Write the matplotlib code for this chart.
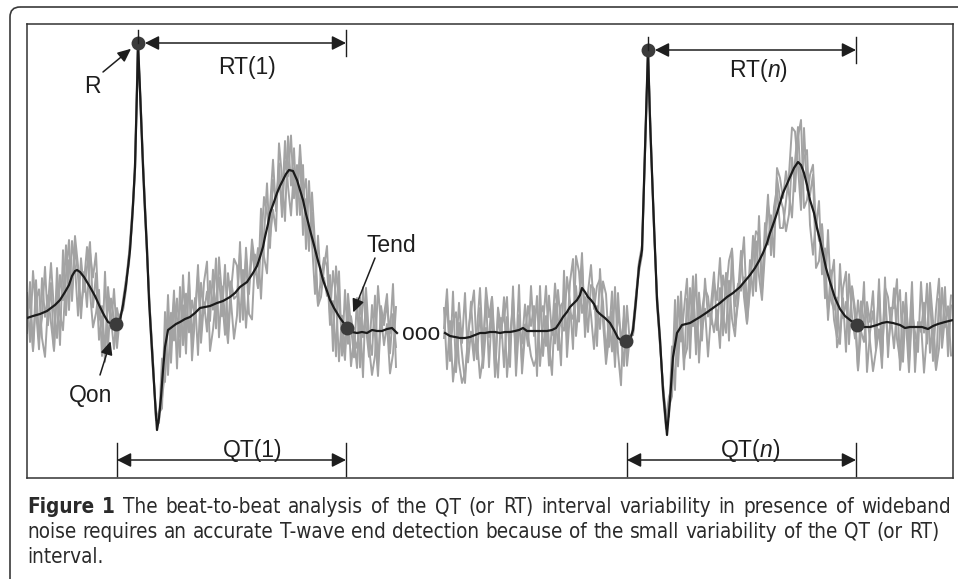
import os
import numpy as np
import matplotlib
matplotlib.use("Agg")
import matplotlib.pyplot as plt
from matplotlib.patches import FancyArrowPatch, FancyBboxPatch
from matplotlib import font_manager as fm

# ---------------- data ----------------
# time in samples, amplitude in arbitrary units (averaged beat = black line)
beat1_t = [0, 6, 13, 20, 28, 33, 38, 42, 45, 48, 50, 53, 57, 63, 68, 73, 77, 81, 85, 89,
           93, 96, 99, 101, 103, 106, 108, 110, 111, 113, 116, 118, 120, 122, 125, 128, 130,
           132, 134, 136, 138, 141, 145, 149, 153, 158, 163, 168, 173, 178, 183, 190, 196,
           203, 208, 213, 220, 226, 230, 233, 236, 238, 241, 243, 247, 250, 253, 256, 259,
           262, 266, 270, 273, 276, 279, 283, 287, 290, 293, 296, 300, 303, 307, 310, 313,
           316, 320, 325, 330, 335, 340, 345, 350, 355, 360, 365, 370]
beat1_a = [12, 14, 16, 19, 25, 30, 38, 45, 54, 59, 60, 58, 53, 43, 34, 23, 15, 8, 6, 6,
           10, 25, 45, 62, 80, 125, 163, 240, 287, 240, 163, 120, 80, 30, -20, -70, -100,
           -88, -67, -40, -17, 0, 3, 6, 8, 11, 13, 17, 22, 23, 24, 27, 29,
           33, 37, 43, 48, 57, 64, 73, 83, 93, 106, 117, 128, 137, 144, 150, 156,
           160, 159, 150, 140, 130, 116, 100, 85, 73, 62, 50, 39, 30, 22, 17, 12,
           8, 2, -2, -3, -2, -3, 0, -1, -1, 1, 2, -3]

beat2_t = [418, 423, 428, 433, 438, 443, 448, 453, 458, 463, 468, 473, 478, 483, 488, 492,
           496, 500, 505, 510, 515, 520, 525, 529, 533, 536, 540, 543, 547, 550, 553, 555,
           558, 561, 564, 567, 570, 573, 578, 583, 587, 591, 595, 599, 603, 606, 609, 612,
           615, 618, 621, 623, 626, 628, 630, 633, 636, 640, 643, 646, 650, 655, 659, 663,
           668, 673, 679, 686, 693, 700, 706, 713, 718, 723, 728, 732, 736, 740, 743, 747,
           750, 753, 756, 760, 763, 767, 771, 774, 777, 780, 783, 787, 790, 793, 796, 799,
           803, 808, 813, 818, 823, 830, 836, 843, 850, 855, 860, 866, 873, 878, 883, 890,
           895, 901, 906, 911, 918, 926]
beat2_a = [-3, -6, -7, -8, -8, -7, -5, -3, -3, -2, -2, -3, -2, -2, -1, 0,
           2, -1, -1, -1, -1, -1, 0, 2, 8, 13, 18, 23, 27, 30, 35, 42,
           38, 33, 30, 26, 19, 16, 12, 7, 0, -8, -11, -11, -10, 0, 30, 63,
           80, 180, 280, 210, 130, 80, 30, -10, -60, -105, -70, -27, -3, 5, 6, 7,
           10, 13, 17, 22, 27, 33, 37, 43, 49, 55, 62, 69, 77, 87, 97, 108,
           117, 127, 137, 146, 153, 162, 168, 165, 157, 145, 130, 117, 102, 90, 76, 62,
           48, 32, 21, 14, 10, 5, 3, 3, 5, 7, 8, 7, 5, 2, 3, 3,
           3, 1, 4, 6, 8, 10]

# fiducial points: Q onset, R peak, T end for beat 1 and beat n
qon_t = [89, 599]
qon_a = [6, -11]
r_t = [111, 621]
r_a = [287, 280]
tend_t = [320, 830]
tend_a = [2, 5]

# individual noisy beats: deviation codes (0..9) around the average, one per sample
beat1_grid = (0, 370, 3)
beat2_grid = (417, 925, 3)
noise_b1 = [
    "7295184630831692740528693517483544554454455453281751938260746382951740"
    "29183746059174628305381629504772509183641847302956" "8263",
    "3816720594174928506369371408526455445545544547163808273649152749163058"
    "71604852930593716482628194073547096318528195274063" "5027",
    "5618249370609273851484136092752545544455455452806373619048279025738164"
    "48371062596241950837195837402693860527143609428175" "7491",
]
noise_b2 = [
    "4829163057927154830616382904757092615384385097241661940382752845544545"
    "45544527160739162845826170935450382917461974630582682054719335179286049046381725"
    "26817390547395028461",
    "7160384925259381706480472615394815930726627914805305387261947354455454"
    "54455470836918273504240758913691627304854853016279137948260580261953743758240916"
    "69038172450481692537",
    "5936720148340296817568190537421267384950904362715847861529308254554445"
    "45455639281284905763759316204830468715926721359840945802731621946385075630291874"
    "83175064294925073816",
]
noise_unit = 10.0

caption_line1 = "The beat-to-beat analysis of the QT (or RT) interval variability in presence of wideband"
caption_line2 = "noise requires an accurate T-wave end detection because of the small variability of the QT (or RT)"
caption_line3 = "interval."

# ---------------- figure ----------------
W, H = 958, 579
fig = plt.figure(figsize=(W / 100, H / 100), dpi=100)
fig.patch.set_facecolor("white")

ov = fig.add_axes([0, 0, 1, 1], zorder=0)
ov.set_xlim(0, W)
ov.set_ylim(H, 0)
ov.axis("off")
ov.add_patch(FancyBboxPatch((10, 7), 975, 600, boxstyle="round,pad=0,rounding_size=10",
                            fc="none", ec="#3a3a3a", lw=1.2))

L, T, R, B = 27, 24, 953, 478
ax = fig.add_axes([L / W, 1 - B / H, (R - L) / W, (B - T) / H], zorder=1)
ax.set_facecolor("white")
ax.set_xlim(0, R - L)
ax.set_ylim(330 - B, 330 - T)
ax.set_xticks([])
ax.set_yticks([])
for s in ax.spines.values():
    s.set_linewidth(1.1)
    s.set_color("#333333")

gray = "#a3a3a3"
for (bt, ba, grid, codes) in [(beat1_t, beat1_a, beat1_grid, noise_b1),
                              (beat2_t, beat2_a, beat2_grid, noise_b2)]:
    g = np.arange(*grid)
    base = np.interp(g, bt, ba)
    for code in codes:
        n = min(len(g), len(code))
        dev = (np.array([int(c) for c in code[:n]]) - 4.5) * noise_unit
        ax.plot(g[:n], base[:n] + dev, color=gray, lw=1.4, zorder=2)

for bt, ba in [(beat1_t, beat1_a), (beat2_t, beat2_a)]:
    ax.plot(bt, ba, color="#1b1b1b", lw=1.6, zorder=3)

ax.plot(qon_t + r_t + tend_t, qon_a + r_a + tend_a, "o", ms=10, color="#3b3b3b",
        mec="none", zorder=5)

ink = "#1e1e1e"
# RT interval arrows (at R height) and QT interval arrows (below)
qt_level = -130
for i in range(2):
    a = FancyArrowPatch((r_t[i], r_a[i]), (tend_t[i] - 1, r_a[i]),
                        arrowstyle="<|-|>,head_length=8.5,head_width=4.3",
                        mutation_scale=1, lw=1.1, color=ink, shrinkA=5, shrinkB=0, zorder=6)
    ax.add_patch(a)
    ax.plot([r_t[i], r_t[i]], [r_a[i], r_a[i] + 13], color=ink, lw=1.0, zorder=6)
    ax.plot([tend_t[i] - 1, tend_t[i] - 1], [r_a[i] - 13, r_a[i] + 13], color=ink, lw=1.0, zorder=6)
    q = FancyArrowPatch((qon_t[i] + 1, qt_level), (tend_t[i] - 1, qt_level),
                        arrowstyle="<|-|>,head_length=8.5,head_width=4.3",
                        mutation_scale=1, lw=1.1, color=ink, shrinkA=0, shrinkB=0, zorder=6)
    ax.add_patch(q)
    for xx in (qon_t[i] + 1, tend_t[i] - 1):
        ax.plot([xx, xx], [qt_level - 16, qt_level + 17], color=ink, lw=1.0, zorder=6)

plt.rcParams["mathtext.fontset"] = "custom"
plt.rcParams["mathtext.rm"] = "Liberation Sans"
plt.rcParams["mathtext.it"] = "Liberation Sans:italic"
lab = dict(fontsize=16.5, color=ink, family="Liberation Sans", ha="center", va="baseline", zorder=7)
ax.text(220, 256, "RT(1)", **lab)
ax.text(731, 253, r"RT($\mathit{n}$)", **lab)
ax.text(226, -127, "QT(1)", **lab)
ax.text(723, -127, r"QT($\mathit{n}$)", **lab)
ax.text(65, 237, "R", **lab)
ax.text(64, -72, "Qon", **lab)
ax.text(364, 78, "Tend", **lab)
ax.text(394, -10, "ooo", **lab)

# pointer arrows to R, Qon, Tend of beat 1
pointer = "-|>,head_length=8,head_width=3.6"
for (px, py, tx, ty, sh) in [(r_t[0], r_a[0], r_t[0] - 35, r_a[0] - 29, 6.5),
                             (qon_t[0], qon_a[0], qon_t[0] - 16, qon_a[0] - 51, 13),
                             (tend_t[0], tend_a[0], tend_t[0] + 28, tend_a[0] + 70, 12)]:
    ax.add_patch(FancyArrowPatch((tx, ty), (px, py), arrowstyle=pointer, mutation_scale=1,
                                 lw=1.1, color=ink, shrinkA=0, shrinkB=sh, zorder=6))

# ---------------- caption ----------------
def find_caption_fonts():
    files = [f.fname for f in fm.fontManager.ttflist]
    prefs = ["dejavusanscondensed", "liberationsansnarrow", "opensanscondensed",
             "opensans_condensed", "robotocondensed", "roboto-condensed", "notosanscondensed"]
    bad = ("italic", "oblique", "light", "thin", "semibold", "extrabold", "black", "medium")
    for p in prefs:
        cand = [f for f in files if p in os.path.basename(f).lower().replace(" ", "")]
        if not cand:
            continue
        reg = [f for f in cand if not any(b in os.path.basename(f).lower() for b in bad + ("bold",))]
        bold = [f for f in cand if "bold" in os.path.basename(f).lower()
                and not any(b in os.path.basename(f).lower() for b in bad)]
        if reg:
            rfp = fm.FontProperties(fname=sorted(reg, key=len)[0])
            bfp = fm.FontProperties(fname=sorted(bold, key=len)[0]) if bold else fm.FontProperties(fname=reg[0], weight="bold")
            return rfp, bfp
    return fm.FontProperties(family="Open Sans"), fm.FontProperties(family="Open Sans", weight="bold")

reg_fp, bold_fp = find_caption_fonts()
renderer = fig.canvas.get_renderer()
cap_col = "#2a2a2a"

def width_of(s, fp, size):
    t = ov.text(0, 0, s, fontproperties=fp, fontsize=size)
    w = t.get_window_extent(renderer).width
    t.remove()
    return w

w10 = width_of(caption_line2, reg_fp, 10)
cap_size = min(17.0, 10 * (939 - 27) / w10)

def place_line(words, y, x0, x1, justify):
    texts, widths = [], []
    for s, fp in words:
        t = ov.text(0, y, s, fontproperties=fp, fontsize=cap_size, color=cap_col,
                    ha="left", va="baseline")
        texts.append(t)
        widths.append(t.get_window_extent(renderer).width)
    sp = width_of("x x", reg_fp, cap_size) - width_of("xx", reg_fp, cap_size)
    gap = (x1 - x0 - sum(widths)) / max(1, len(words) - 1) if justify else sp
    x = x0
    for t, w in zip(texts, widths):
        t.set_x(x)
        x += w + gap

line1 = [("Figure", bold_fp), ("1", bold_fp)] + [(w, reg_fp) for w in caption_line1.split()]
place_line(line1, 513, 27, 951, True)
place_line([(w, reg_fp) for w in caption_line2.split()], 538, 27, 939, True)
place_line([(w, reg_fp) for w in caption_line3.split()], 563, 27, 939, False)

fig.savefig("out.png", dpi=100, facecolor="white")
